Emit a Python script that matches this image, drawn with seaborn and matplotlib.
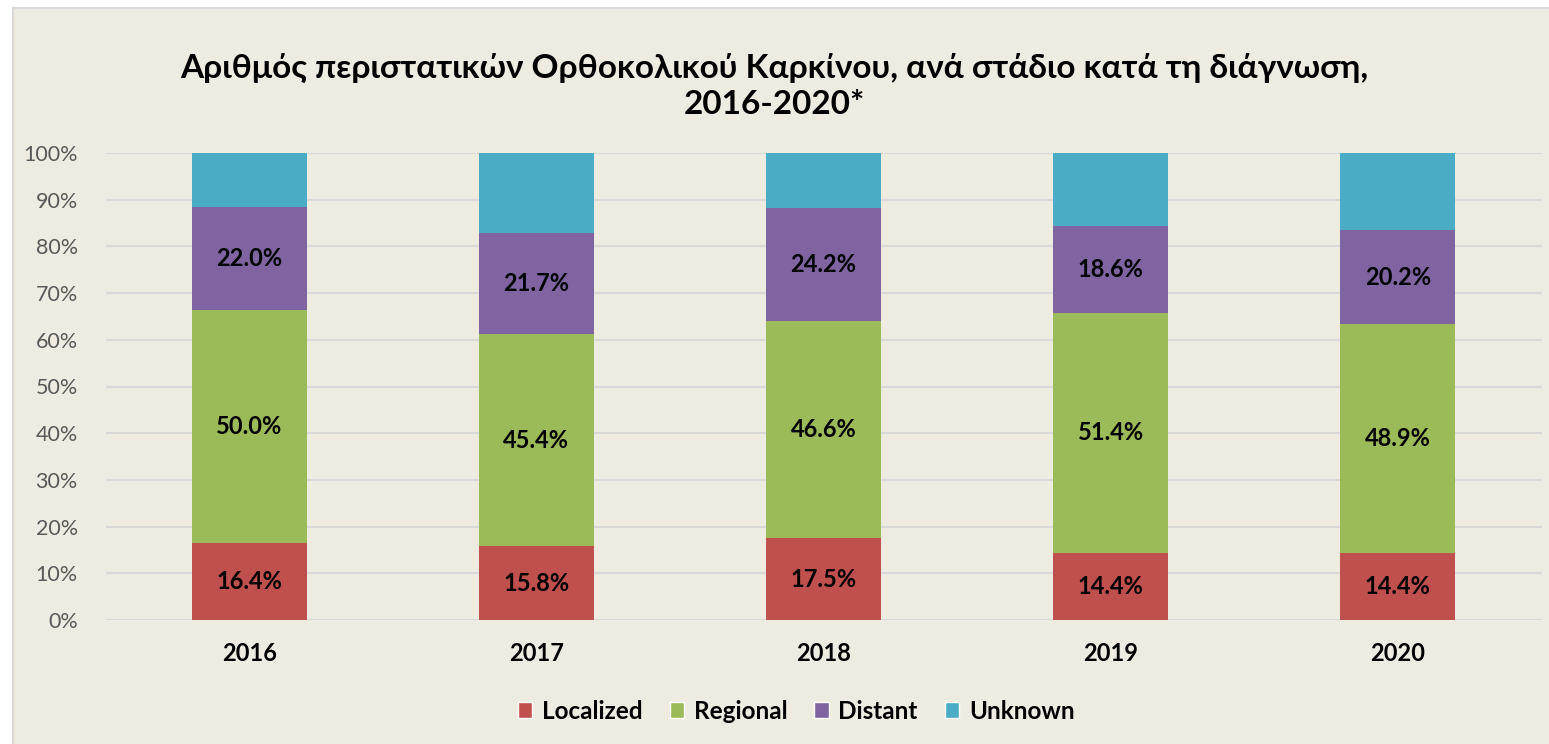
import pandas as pd
import matplotlib.pyplot as plt
import seaborn as sns
import numpy as np
from matplotlib.patches import Rectangle, Patch
from matplotlib.ticker import PercentFormatter

years = ['2016', '2017', '2018', '2019', '2020']
localized = [16.4, 15.8, 17.5, 14.4, 14.4]
regional = [50.0, 45.4, 46.6, 51.4, 48.9]
distant = [22.0, 21.7, 24.2, 18.6, 20.2]
unknown = [11.6, 17.1, 11.7, 15.6, 16.5]

stages = ['Localized', 'Regional', 'Distant', 'Unknown']
colors = {'Localized': '#C0504D', 'Regional': '#9BBB59', 'Distant': '#8064A2', 'Unknown': '#4BACC6'}
title = "Αριθμός περιστατικών Ορθοκολικού Καρκίνου, ανά στάδιο κατά τη διάγνωση,\n2016-2020*"

bg = '#EEECE1'
sns.set_theme(style="white")
plt.rcParams['font.family'] = ['Lato', 'Noto Sans', 'DejaVu Sans']
plt.rcParams['text.color'] = 'black'

df = pd.DataFrame({'Year': years, 'Localized': localized, 'Regional': regional,
                   'Distant': distant, 'Unknown': unknown})
cum = df[stages].cumsum(axis=1)

fig = plt.figure(figsize=(15.49, 7.44), dpi=100, facecolor='white')
fig.patches.append(Rectangle((12.5 / 1549, -0.01), 1.02, (744 - 7.5) / 744 + 0.01,
                             transform=fig.transFigure, facecolor=bg,
                             edgecolor='#D9D9D9', linewidth=1.5, zorder=-5))
ax = fig.add_axes([105.5 / 1549, 124 / 744, 1436 / 1549, 467 / 744])
ax.set_facecolor(bg)
ax.patch.set_alpha(0)

# draw cumulative bars from top stage down so each layer shows its own segment
for st in reversed(stages):
    sns.barplot(x=df['Year'], y=cum[st], color=colors[st], width=0.4,
                saturation=1, ax=ax, zorder=3, linewidth=0)

# labels at segment centres (Unknown left unlabeled)
for st in ['Localized', 'Regional', 'Distant']:
    mid = cum[st] - df[st] / 2
    for i, (m, v) in enumerate(zip(mid, df[st])):
        ax.text(i, m, f"{v:.1f}%", ha='center', va='center', fontsize=17,
                fontweight='bold', color='black', zorder=5)

ax.set_ylim(0, 100)
ax.set_xlim(-0.5, 4.5)
ax.set_yticks(np.arange(0, 101, 10))
ax.yaxis.set_major_formatter(PercentFormatter(decimals=0))
ax.grid(axis='y', color='#D9D9D9', linewidth=1.5, zorder=0)
ax.set_axisbelow(True)
for s in ax.spines.values():
    s.set_visible(False)
ax.set_xlabel('')
ax.set_ylabel('')
ax.tick_params(axis='y', labelsize=15.5, labelcolor='#595959', length=0, pad=20)
ax.tick_params(axis='x', labelsize=17, labelcolor='black', length=0, pad=16)
for lab in ax.get_xticklabels():
    lab.set_fontweight('bold')

fig.text(0.5, 0.885, title, ha='center', va='center', fontsize=24,
         fontweight='bold', linespacing=1.3, color='black')

handles = [Patch(facecolor=colors[s], label=s) for s in stages]
fig.legend(handles=handles, loc='center', bbox_to_anchor=(0.514, 0.044), ncol=4,
           frameon=False, prop={'size': 17.5, 'weight': 'bold'},
           handlelength=0.6, handleheight=0.6, handletextpad=0.4, columnspacing=1.1,
           labelcolor='black')

fig.savefig('out.png', dpi=100, facecolor='white')
